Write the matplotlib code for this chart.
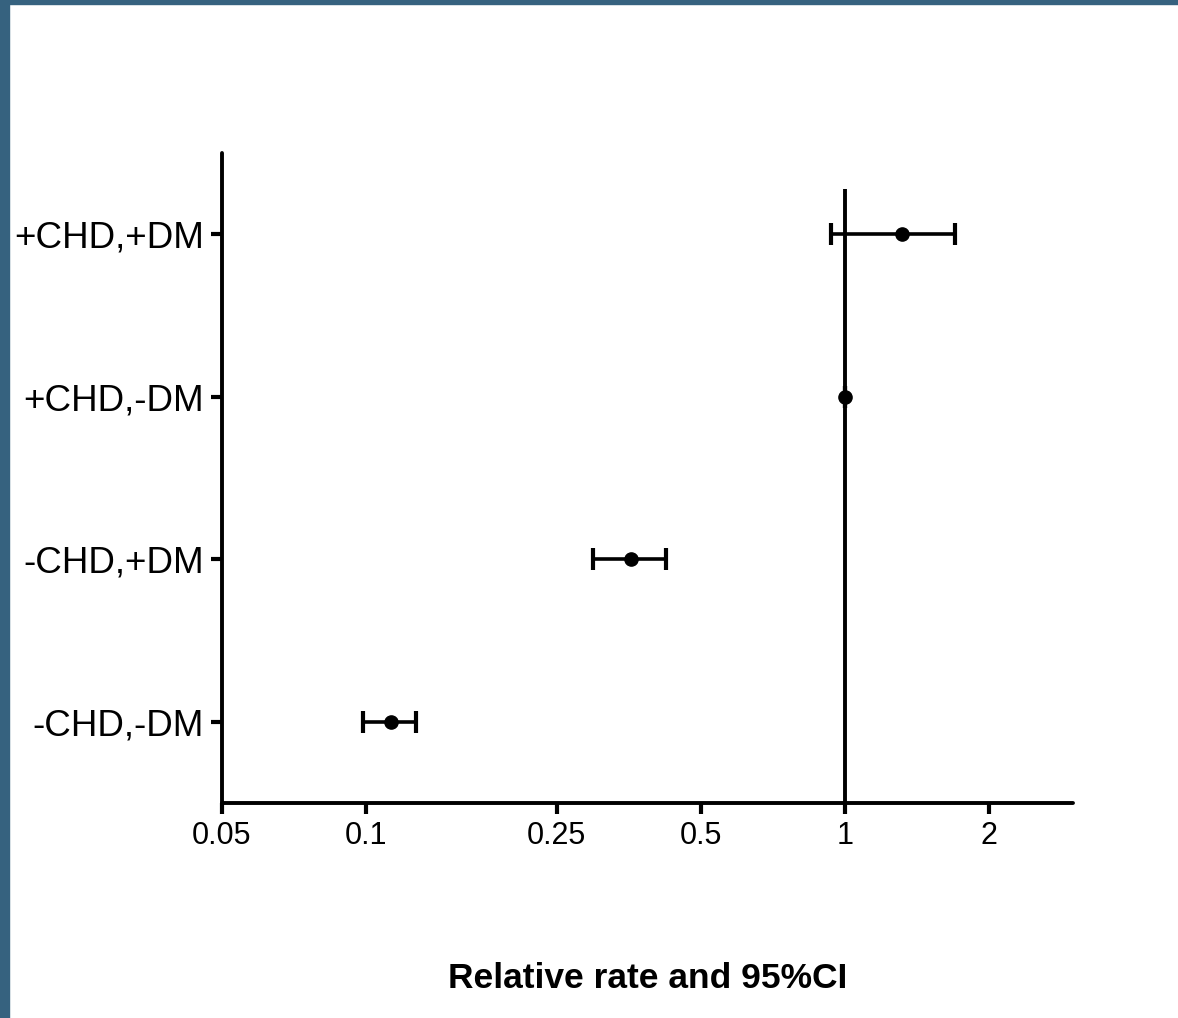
import numpy as np
import matplotlib.pyplot as plt
from matplotlib.patches import Rectangle

# groups, bottom to top
groups = ['-CHD,-DM', '-CHD,+DM', '+CHD,-DM', '+CHD,+DM']
rate = [0.113, 0.358, 1.0, 1.315]
ci_low = [0.0985, 0.298, 1.0, 0.935]
ci_high = [0.127, 0.423, 1.0, 1.70]

xticks = [0.05, 0.1, 0.25, 0.5, 1, 2]
xticklabels = ['0.05', '0.1', '0.25', '0.5', '1', '2']

plt.rcParams['font.family'] = ['Liberation Sans', 'DejaVu Sans']

fig = plt.figure(figsize=(11.78, 10.18), dpi=100)

# blue frame on left and top edges
fig.patches.append(Rectangle((0, 0), 9 / 1178, 1, transform=fig.transFigure,
                             color='#36627f', zorder=0))
fig.patches.append(Rectangle((0, 1 - 4 / 1018), 1, 4 / 1018, transform=fig.transFigure,
                             color='#36627f', zorder=0))

ax = fig.add_axes([222 / 1178, 1 - 803 / 1018, (1073 - 222) / 1178, (803 - 153) / 1018])

y = np.arange(1, len(groups) + 1)
rate = np.array(rate)
err = np.vstack([rate - np.array(ci_low), np.array(ci_high) - rate])

ax.vlines(1, 0.5, 4.28, color='black', lw=2.8, zorder=1)
ax.errorbar(rate, y, xerr=err, fmt='o', color='black', ms=9.5, elinewidth=2.6,
            capsize=8, capthick=3, zorder=3)

ax.set_xscale('log')
ax.set_xlim(0.05, 3)
ax.set_ylim(0.5, 4.5)
ax.set_xticks(xticks)
ax.set_xticklabels(xticklabels, fontsize=22)
ax.minorticks_off()
ax.set_yticks(y)
ax.set_yticklabels(groups, fontsize=26.5)

for s in ['top', 'right']:
    ax.spines[s].set_visible(False)
for s in ['left', 'bottom']:
    ax.spines[s].set_linewidth(2.8)
    ax.spines[s].set_capstyle('round')
ax.tick_params(axis='both', width=3, length=8, pad=5)

ax.set_xlabel('Relative rate and 95%CI', fontsize=25.5, fontweight='bold', labelpad=80)

fig.savefig('out.png', dpi=100)
